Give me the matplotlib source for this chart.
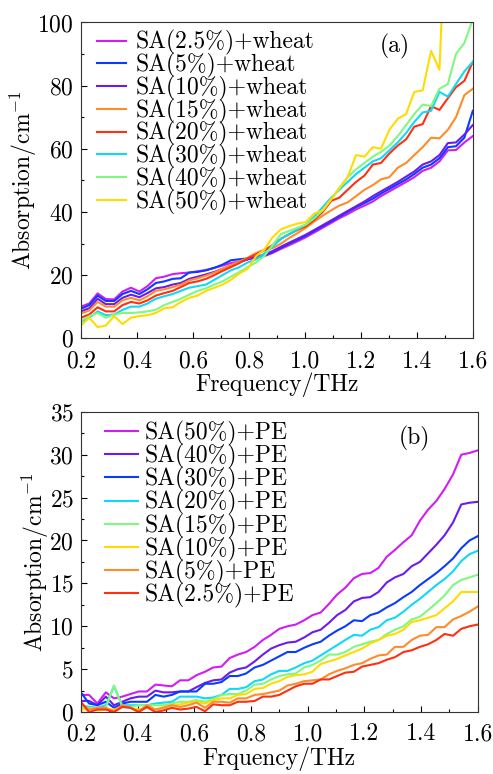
import matplotlib
matplotlib.use('Agg')
import matplotlib.pyplot as plt
from matplotlib.ticker import MultipleLocator

plt.rcParams['font.family'] = 'serif'
plt.rcParams['font.serif'] = ['cmr10']
plt.rcParams['mathtext.fontset'] = 'cm'
plt.rcParams['axes.formatter.use_mathtext'] = True
plt.rcParams['axes.unicode_minus'] = False

# frequency grids (THz)
freq_a = [0.200, 0.230, 0.260, 0.289, 0.319, 0.349, 0.379, 0.409,
          0.438, 0.468, 0.498, 0.528, 0.557, 0.587, 0.617, 0.647,
          0.677, 0.706, 0.736, 0.766, 0.796, 0.826, 0.855, 0.885,
          0.915, 0.945, 0.974, 1.004, 1.034, 1.064, 1.094, 1.123,
          1.153, 1.183, 1.213, 1.243, 1.272, 1.302, 1.332, 1.362,
          1.391, 1.421, 1.451, 1.481, 1.511, 1.540, 1.570, 1.600]
freq_b = [0.200, 0.229, 0.258, 0.288, 0.317, 0.346, 0.375, 0.404,
          0.433, 0.463, 0.492, 0.521, 0.550, 0.579, 0.608, 0.638,
          0.667, 0.696, 0.725, 0.754, 0.783, 0.813, 0.842, 0.871,
          0.900, 0.929, 0.958, 0.988, 1.017, 1.046, 1.075, 1.104,
          1.133, 1.163, 1.192, 1.221, 1.250, 1.279, 1.308, 1.338,
          1.367, 1.396, 1.425, 1.454, 1.483, 1.513, 1.542, 1.571,
          1.600]

# (a) SA + wheat
wheat_labels = ['SA(2.5%)+wheat', 'SA(5%)+wheat', 'SA(10%)+wheat', 'SA(15%)+wheat',
                'SA(20%)+wheat', 'SA(30%)+wheat', 'SA(40%)+wheat', 'SA(50%)+wheat']
wheat_2_5 = [10.0, 11.0, 14.2, 12.4, 12.3, 14.8, 16.0, 14.8,
             16.5, 19.0, 19.5, 20.3, 20.6, 20.8, 21.2, 21.6,
             22.3, 23.0, 23.8, 24.3, 25.0, 25.5, 26.0, 27.0,
             28.3, 29.5, 30.7, 32.0, 33.5, 35.0, 36.5, 38.0,
             39.3, 40.8, 42.0, 43.3, 45.0, 46.5, 48.0, 49.5,
             51.0, 53.0, 54.0, 56.0, 59.5, 59.6, 62.0, 64.0]
wheat_5 = [9.3, 10.5, 13.5, 11.8, 11.8, 14.0, 15.0, 14.0,
           15.5, 17.5, 18.0, 18.8, 19.0, 20.8, 21.0, 21.5,
           22.3, 23.3, 24.7, 25.0, 25.3, 25.6, 26.2, 27.3,
           28.7, 30.0, 31.2, 32.5, 34.0, 35.5, 37.0, 38.5,
           40.0, 41.5, 42.8, 44.2, 45.8, 47.3, 48.8, 50.3,
           52.0, 54.0, 55.0, 57.0, 60.5, 60.8, 63.5, 72.0]
wheat_10 = [8.5, 9.5, 12.5, 10.8, 10.8, 12.8, 13.8, 13.0,
            14.3, 15.8, 16.2, 17.0, 17.5, 18.8, 19.5, 20.2,
            21.0, 22.0, 23.0, 24.0, 25.0, 25.8, 26.5, 27.6,
            29.0, 30.3, 31.5, 32.8, 34.3, 35.8, 37.3, 38.8,
            40.3, 41.8, 43.3, 45.0, 46.5, 48.0, 49.5, 51.2,
            52.8, 55.0, 56.0, 58.0, 61.8, 62.0, 64.5, 67.5]
wheat_15 = [7.8, 8.8, 11.5, 10.0, 10.0, 12.0, 12.8, 12.0,
            13.3, 15.0, 15.5, 16.2, 17.0, 18.3, 19.0, 19.8,
            20.8, 22.0, 23.2, 24.3, 25.5, 27.0, 28.0, 28.5,
            30.0, 31.8, 33.3, 35.0, 37.0, 38.8, 40.5, 42.0,
            43.0, 45.0, 47.0, 48.5, 50.3, 51.0, 54.0, 55.5,
            58.0, 60.5, 63.5, 63.3, 66.0, 70.0, 77.0, 79.0]
wheat_20 = [6.5, 7.5, 9.8, 8.5, 8.5, 10.5, 11.5, 11.0,
            12.0, 13.5, 14.3, 15.0, 16.2, 17.5, 18.0, 18.8,
            20.0, 21.3, 22.5, 23.8, 25.3, 26.5, 27.8, 29.5,
            31.5, 33.0, 34.3, 35.5, 37.5, 40.0, 43.5, 44.5,
            47.0, 49.5, 51.5, 55.0, 55.5, 58.5, 61.0, 63.0,
            67.0, 67.8, 73.5, 72.3, 76.0, 79.5, 81.5, 87.5]
wheat_30 = [5.2, 6.5, 8.5, 7.3, 7.5, 9.0, 10.0, 10.0,
            11.0, 12.5, 13.3, 14.0, 15.0, 16.0, 16.5, 17.0,
            18.5, 20.0, 21.5, 22.5, 24.0, 25.0, 26.8, 29.0,
            31.5, 33.0, 34.5, 36.0, 38.5, 41.5, 44.5, 47.0,
            49.5, 52.0, 54.0, 56.0, 57.0, 59.5, 62.0, 65.0,
            68.5, 71.5, 72.0, 78.0, 76.5, 80.5, 84.5, 87.5]
wheat_40 = [5.5, 7.0, 8.0, 6.5, 7.5, 8.0, 8.0, 8.2,
            8.5, 9.0, 10.5, 11.5, 12.5, 13.8, 15.0, 15.8,
            17.0, 18.0, 19.5, 21.0, 22.5, 24.0, 26.0, 29.5,
            33.0, 34.0, 35.0, 36.0, 38.0, 40.5, 44.0, 47.5,
            51.0, 53.5, 55.5, 57.5, 59.0, 61.0, 64.0, 67.5,
            71.0, 74.0, 73.5, 79.0, 80.5, 90.0, 93.5, 101.0]
wheat_50 = [4.0, 6.5, 3.5, 4.0, 7.0, 4.5, 6.5, 7.0,
            7.3, 8.0, 9.5, 9.8, 11.5, 12.8, 13.5, 15.0,
            16.0, 17.0, 18.5, 20.5, 22.0, 26.0, 28.0, 32.0,
            34.5, 35.5, 36.3, 36.8, 39.5, 40.5, 44.0, 47.5,
            51.0, 58.0, 57.5, 60.5, 60.0, 66.0, 69.5, 71.0,
            78.0, 78.5, 91.0, 85.0, 150.0, 160.0, 170.0, 180.0]
wheat_data = [wheat_2_5, wheat_5, wheat_10, wheat_15,
              wheat_20, wheat_30, wheat_40, wheat_50]
wheat_colors = ['#d21cf5', '#0a3cff', '#6a1cf0', '#ff8c28',
                '#ff3010', '#10d8f8', '#80f880', '#ffdc00']

# (b) SA + PE
pe_labels = ['SA(50%)+PE', 'SA(40%)+PE', 'SA(30%)+PE', 'SA(20%)+PE',
             'SA(15%)+PE', 'SA(10%)+PE', 'SA(5%)+PE', 'SA(2.5%)+PE']
pe_50 = [2.0, 2.0, 1.0, 2.3, 1.6, 1.8, 2.1, 2.4,
         2.4, 3.2, 3.1, 3.0, 3.7, 3.7, 4.3, 4.7,
         5.2, 5.3, 6.3, 6.7, 7.0, 7.6, 8.4, 9.0,
         9.7, 10.0, 10.2, 10.7, 11.3, 11.6, 12.6, 13.7,
         14.5, 15.6, 16.1, 16.2, 16.8, 18.1, 18.9, 19.8,
         20.6, 22.3, 23.6, 24.6, 26.0, 27.7, 30.0, 30.2,
         30.5]
pe_40 = [1.3, 1.3, 0.8, 1.8, 0.8, 1.2, 1.6, 1.8,
         1.8, 2.5, 2.3, 2.3, 2.4, 2.4, 2.9, 3.4,
         3.7, 3.8, 4.6, 5.0, 5.2, 5.9, 6.7, 7.4,
         7.8, 8.1, 8.2, 8.7, 9.3, 9.6, 10.4, 11.3,
         11.9, 12.9, 13.3, 13.4, 14.0, 15.1, 15.7, 16.1,
         17.0, 17.5, 18.5, 19.5, 20.6, 22.1, 24.2, 24.4,
         24.5]
pe_30 = [2.3, 1.0, 0.8, 1.2, 0.5, 1.0, 1.2, 1.2,
         1.2, 2.0, 1.8, 2.0, 2.4, 2.4, 2.4, 3.3,
         3.3, 3.5, 4.2, 4.2, 4.5, 5.2, 5.5, 6.0,
         6.5, 7.0, 7.0, 7.5, 7.9, 8.2, 8.9, 9.5,
         10.0, 10.7, 10.6, 11.3, 11.6, 12.2, 12.7, 13.4,
         14.0, 14.8, 15.5, 16.2, 17.0, 17.9, 19.1, 20.0,
         20.5]
pe_20 = [0.8, 0.6, 0.5, 0.8, 3.0, 0.8, 0.8, 0.8,
         0.8, 1.0, 1.1, 1.2, 1.8, 1.8, 1.8, 1.6,
         1.7, 2.0, 2.7, 2.7, 2.9, 3.6, 3.8, 4.4,
         4.8, 4.8, 5.2, 5.7, 6.0, 6.6, 7.2, 7.8,
         8.4, 9.0, 8.9, 9.6, 9.9, 10.7, 11.0, 11.7,
         12.5, 13.2, 14.0, 14.8, 15.5, 16.4, 17.6, 18.4,
         18.8]
pe_15 = [0.5, 0.5, 0.4, 0.5, 3.1, 0.6, 0.6, 0.8,
         0.8, 0.8, 0.8, 1.0, 1.2, 1.2, 1.4, 1.2,
         1.5, 2.0, 2.1, 2.1, 2.5, 3.2, 3.3, 3.8,
         4.2, 4.4, 4.5, 5.2, 5.5, 6.0, 6.7, 6.7,
         7.0, 7.6, 7.9, 8.2, 8.4, 9.1, 9.6, 10.0,
         10.8, 11.1, 11.9, 12.7, 13.6, 14.8, 15.4, 15.7,
         16.0]
pe_10 = [0.3, 0.3, 0.2, 0.3, 0.3, 0.6, 0.5, 0.3,
         0.5, 0.3, 0.6, 0.8, 0.9, 1.1, 1.2, 1.0,
         1.4, 1.6, 1.6, 2.0, 2.1, 2.7, 2.8, 3.3,
         3.6, 4.1, 4.3, 4.4, 4.7, 5.6, 5.9, 6.2,
         6.6, 7.0, 7.4, 8.0, 8.4, 8.9, 9.1, 9.6,
         10.5, 10.7, 11.0, 11.3, 12.1, 12.9, 14.0, 14.0,
         14.0]
pe_5 = [1.0, 0.3, 0.5, 0.5, 0.1, 0.8, 0.5, 0.1,
        0.8, 0.3, 0.5, 0.8, 0.6, 0.8, 1.1, 0.5,
        1.2, 1.2, 1.1, 1.6, 1.6, 2.0, 2.1, 2.3,
        2.5, 3.1, 3.3, 3.6, 3.7, 3.8, 4.4, 4.8,
        5.1, 5.5, 5.7, 6.2, 6.6, 6.7, 7.6, 7.6,
        8.4, 8.9, 9.0, 9.9, 9.9, 10.8, 11.2, 11.7,
        12.3]
pe_2_5 = [1.2, 0.0, 0.3, 0.3, 0.0, 0.6, 0.5, 0.0,
          0.6, 0.0, 0.2, 0.5, 0.3, 0.4, 0.6, 0.1,
          0.9, 0.8, 0.8, 1.2, 1.2, 1.3, 1.8, 1.8,
          2.0, 2.5, 3.0, 3.3, 3.3, 3.8, 3.8, 4.2,
          4.6, 4.7, 5.3, 5.5, 5.7, 6.1, 6.4, 7.0,
          7.2, 7.6, 7.9, 8.4, 9.1, 8.9, 9.7, 10.0,
          10.2]
pe_data = [pe_50, pe_40, pe_30, pe_20, pe_15, pe_10, pe_5, pe_2_5]
pe_colors = ['#d21cf5', '#6a1cf0', '#0a3cff', '#10d8f8',
             '#80f880', '#ffdc00', '#ff8c28', '#ff3010']

fig = plt.figure(figsize=(4.93, 7.74), dpi=100)
ax1 = fig.add_axes([0.164, 0.563, 0.795, 0.408])
ax2 = fig.add_axes([0.164, 0.080, 0.805, 0.388])

fs = 17


def style(ax, xpad):
    ax.tick_params(which='both', direction='in', top=False, right=False,
                   labelsize=fs, width=0.8)
    ax.tick_params(axis='x', which='major', pad=xpad)
    ax.tick_params(axis='y', which='major', pad=5)
    ax.tick_params(which='major', length=4.5)
    ax.tick_params(which='minor', length=2.5)
    ax.xaxis.set_major_locator(MultipleLocator(0.2))
    ax.xaxis.set_minor_locator(MultipleLocator(0.1))
    ax.xaxis.set_major_formatter(plt.FormatStrFormatter('%.1f'))
    for s in ax.spines.values():
        s.set_linewidth(0.8)
        s.set_color('#333333')


for vals, lab, c in zip(wheat_data, wheat_labels, wheat_colors):
    ax1.plot(freq_a, vals, color=c, lw=1.5, label=lab)
ax1.set_xlim(0.2, 1.6)
ax1.set_ylim(0, 100)
style(ax1, 9)
ax1.yaxis.set_major_locator(MultipleLocator(20))
ax1.yaxis.set_minor_locator(MultipleLocator(10))
ax1.set_xlabel('Frequency/THz', fontsize=fs, labelpad=0)
ax1.set_ylabel('Absorption/cm$^{-1}$', fontsize=fs, labelpad=-1)
ax1.legend(loc='upper left', fontsize=fs, frameon=False, handlelength=1.25,
           handletextpad=0.4, labelspacing=-0.1, borderaxespad=0, borderpad=0,
           bbox_to_anchor=(0.04, 0.975))
ax1.text(0.8, 0.925, '(a)', transform=ax1.transAxes, fontsize=fs,
         ha='center', va='center')

for vals, lab, c in zip(pe_data, pe_labels, pe_colors):
    ax2.plot(freq_b, vals, color=c, lw=1.5, label=lab)
ax2.set_xlim(0.2, 1.6)
ax2.set_ylim(0, 35)
style(ax2, 8)
ax2.yaxis.set_major_locator(MultipleLocator(5))
ax2.yaxis.set_minor_locator(MultipleLocator(2.5))
ax2.set_xlabel('Frquency/THz', fontsize=fs, labelpad=1)
ax2.set_ylabel('Absorption/cm$^{-1}$', fontsize=fs, labelpad=-1)
ax2.legend(loc='upper left', fontsize=fs, frameon=False, handlelength=1.4,
           handletextpad=0.3, labelspacing=-0.08, borderaxespad=0, borderpad=0,
           bbox_to_anchor=(0.06, 0.97))
ax2.text(0.84, 0.91, '(b)', transform=ax2.transAxes, fontsize=fs,
         ha='center', va='center')

fig.savefig('out.png', dpi=100)
